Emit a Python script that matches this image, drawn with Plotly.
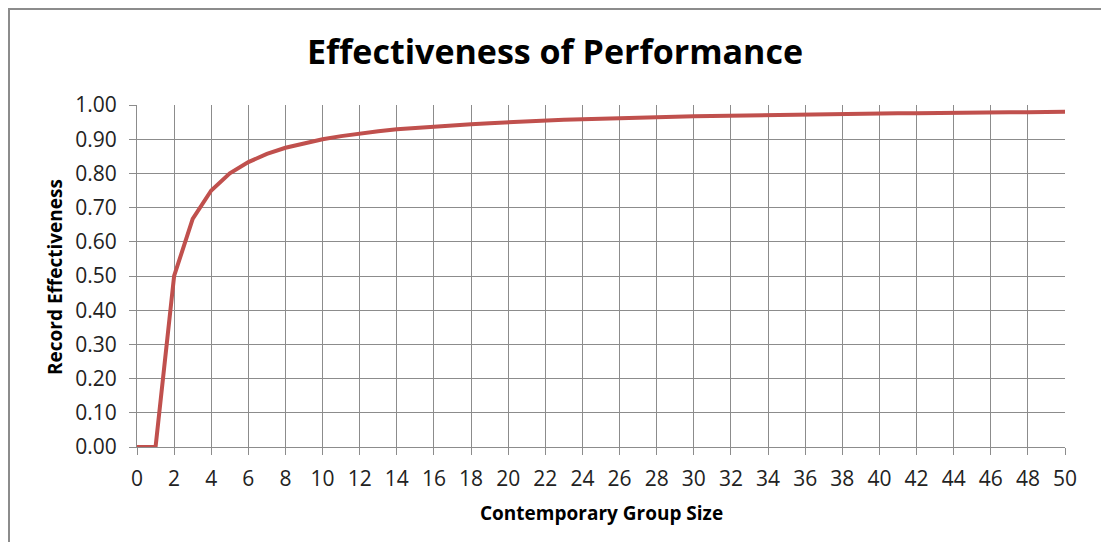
import plotly.graph_objects as go

group_size = list(range(0, 51))
effectiveness = [
    0.000, 0.000, 0.500, 0.667, 0.750, 0.800, 0.833, 0.857, 0.875, 0.889,
    0.900, 0.909, 0.917, 0.923, 0.929, 0.933, 0.938, 0.941, 0.944, 0.947,
    0.950, 0.952, 0.955, 0.957, 0.958, 0.960, 0.962, 0.963, 0.964, 0.966,
    0.967, 0.968, 0.969, 0.970, 0.971, 0.971, 0.972, 0.973, 0.974, 0.974,
    0.975, 0.976, 0.976, 0.977, 0.977, 0.978, 0.978, 0.979, 0.979, 0.980,
    0.980,
]
x_ticks = list(range(0, 51, 2))
y_ticks = [round(i * 0.1, 1) for i in range(11)]

FONT = "Open Sans"

# the page body has an 8px default margin, so the figure is offset by 8px
OFF = 8
W, H = 1109 - OFF, 550 - 2 * OFF
L, R, T = 137 - OFF, 44, 105 - OFF
B = H - (447 - OFF)
pw, ph = W - L - R, H - T - B

def px_to_paper_x(px):
    return (px - OFF - L) / pw

def px_to_paper_y(py):
    return (H - B - (py - OFF)) / ph

fig = go.Figure()
fig.add_trace(go.Scatter(
    x=group_size, y=effectiveness, mode="lines",
    line=dict(color="#C0504D", width=4), hoverinfo="x+y",
))

axis_common = dict(showgrid=True, gridcolor="#8c8c8c", gridwidth=1, showline=True,
                   linecolor="#8c8c8c", ticks="outside", ticklen=7, tickcolor="#8c8c8c",
                   zeroline=False, tickfont=dict(family=FONT, size=21, color="#222"))

fig.update_layout(
    width=W, height=H,
    margin=dict(l=L, r=R, t=T, b=B),
    paper_bgcolor="white", plot_bgcolor="white",
    showlegend=False,
    title=dict(text="<b>Effectiveness of Performance</b>", x=(555 - OFF) / W,
               xanchor="center", y=1 - (52 - OFF) / H, yanchor="middle", yref="container",
               font=dict(family=FONT, size=34, color="black")),
    xaxis=dict(range=[0, 50], tickvals=x_ticks, ticklabelstandoff=6, **axis_common),
    yaxis=dict(range=[0, 1], tickvals=y_ticks, tickformat=".2f", ticklabelstandoff=8,
               **axis_common),
    annotations=[
        dict(text="<b>Contemporary Group Size</b>", xref="paper", yref="paper",
             x=px_to_paper_x(601), y=px_to_paper_y(513), xanchor="center", yanchor="middle",
             showarrow=False, font=dict(family=FONT, size=19, color="black")),
        dict(text="<b>Record Effectiveness</b>", xref="paper", yref="paper",
             x=px_to_paper_x(55), y=px_to_paper_y(277), xanchor="center", yanchor="middle",
             textangle=-90, showarrow=False, font=dict(family=FONT, size=19, color="black")),
    ],
    shapes=[
        dict(type="rect", xref="paper", yref="paper",
             x0=px_to_paper_x(9), x1=px_to_paper_x(1103),
             y0=px_to_paper_y(560), y1=px_to_paper_y(9),
             line=dict(color="#8c8c8c", width=2), layer="below"),
    ],
)

fig.write_html("out.html")
